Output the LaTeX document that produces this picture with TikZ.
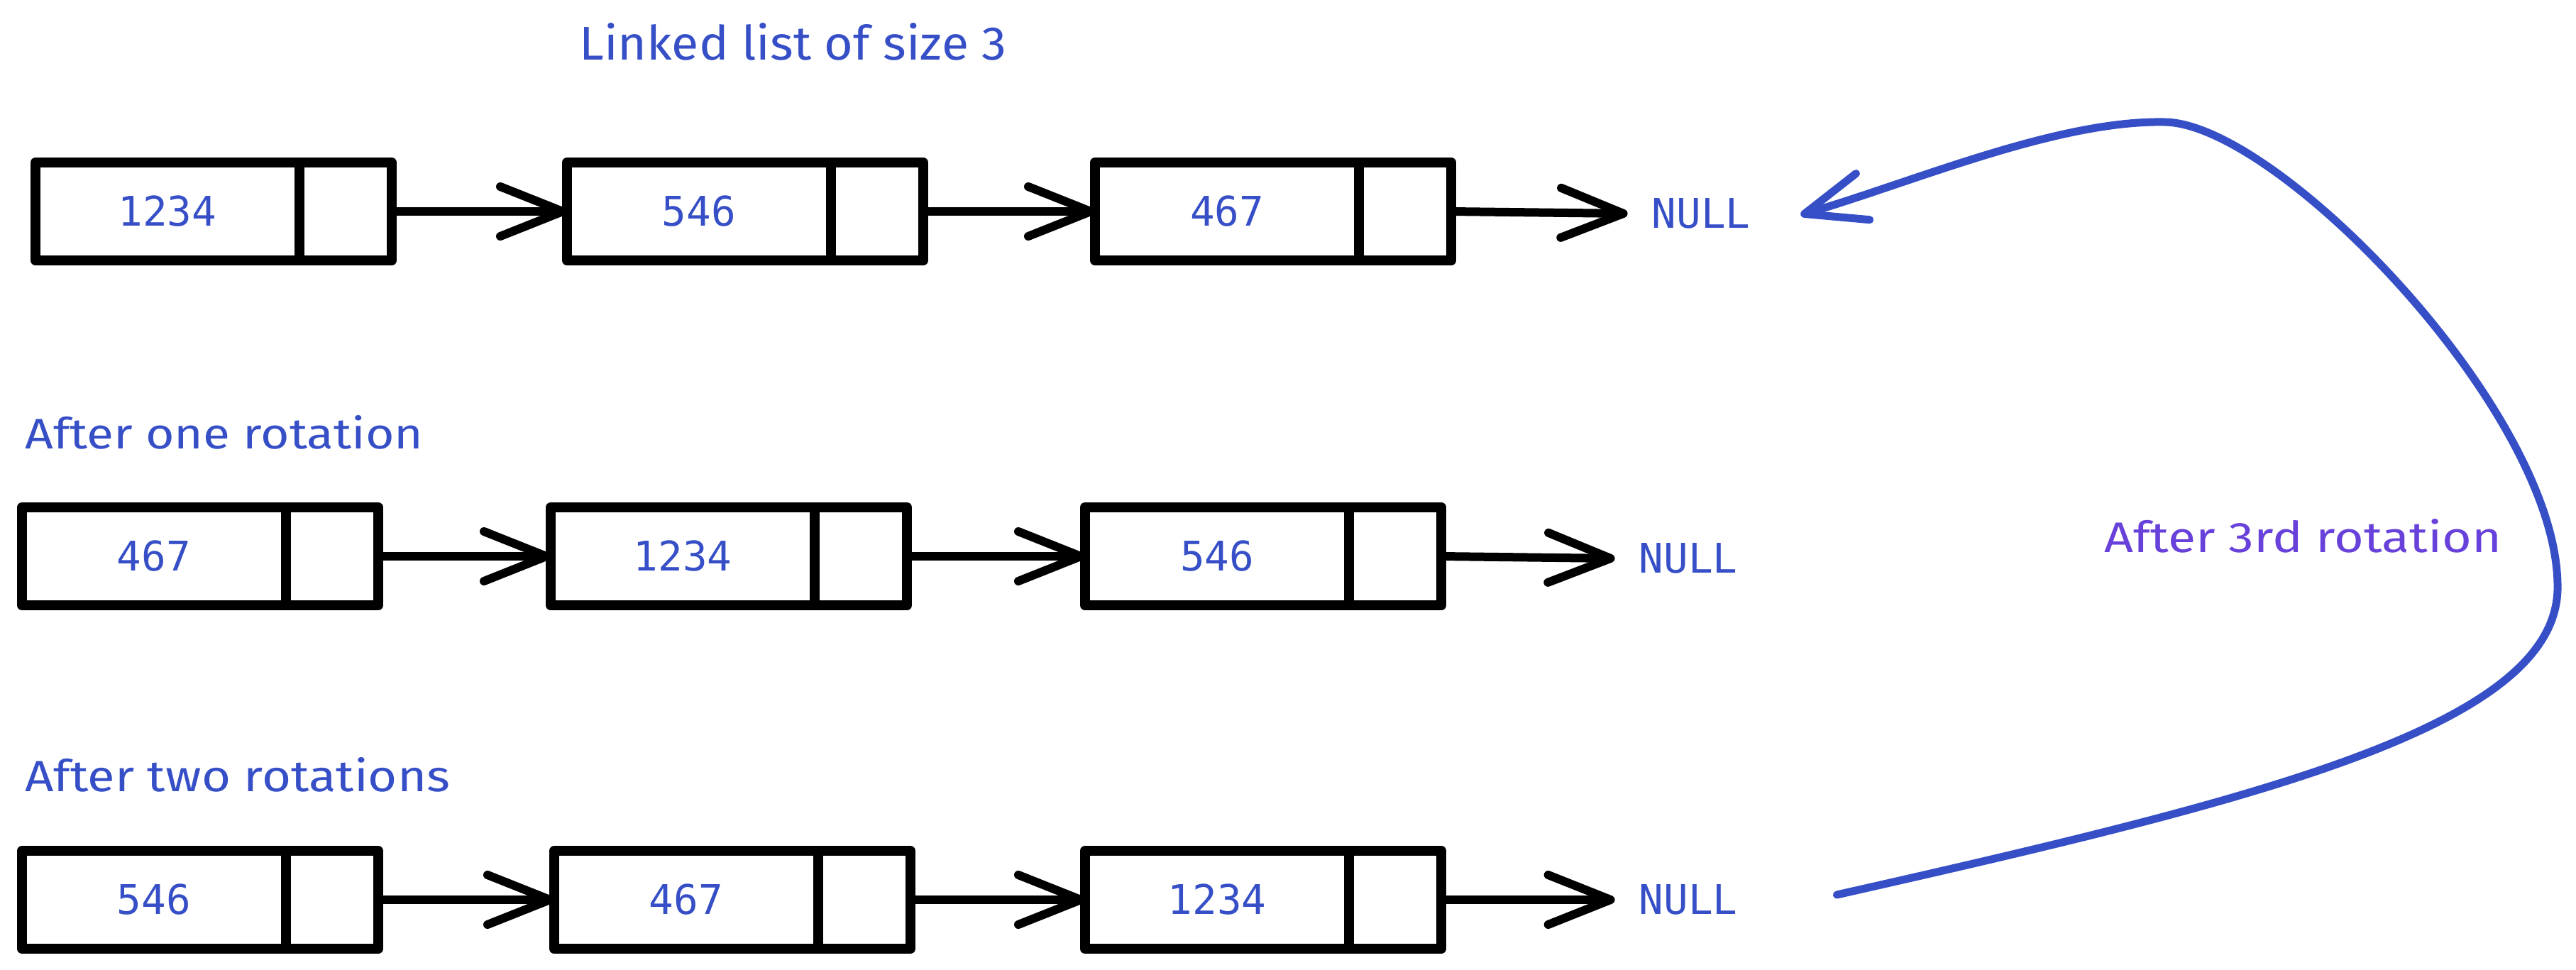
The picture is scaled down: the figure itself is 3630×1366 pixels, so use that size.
\documentclass[tikz,border=0pt]{standalone}
\usepackage{fontspec}
\usepackage{graphicx}
\usetikzlibrary{arrows.meta,calc}
\newfontfamily\monofont{DejaVu Sans Mono}
\newfontfamily\handfont{Fira Sans}
\definecolor{inkblue}{HTML}{364FC7}
\definecolor{inkviolet}{HTML}{6741D9}
\begin{document}
\begin{tikzpicture}[x=1pt,y=-1pt,
  cell/.style={draw=black, line width=14pt, line join=round, inner sep=0pt, outer sep=0pt,
    minimum height=138pt, font=\monofont\fontsize{57.6}{60}\selectfont, text=inkblue},
  datacell/.style={cell, minimum width=372pt},
  ptrcell/.style={cell, minimum width=130pt, anchor=west},
  link/.style={draw=black, line width=12pt, line cap=round, line join=round,
    -{Straight Barb[length=88pt,width=70pt,round]}},
  nulltext/.style={inner xsep=34pt, inner ysep=0pt, outer sep=0pt,
    font=\monofont\fontsize{57.6}{60}\selectfont, text=inkblue},
  hand/.style={inner sep=0pt, anchor=base west},
  rotloop/.style={draw=inkblue, line width=11pt, line cap=round, line join=round,
    -{Straight Barb[length=86pt,width=68pt,round]}},
]
\useasboundingbox (0,0) rectangle (3630,1366);

% titles
\node[hand, text=inkblue] (t0) at (816,84) {\resizebox{602pt}{52pt}{\handfont Linked list of size 3}};
\node[hand, text=inkblue] (t1) at (35,632) {\resizebox{561pt}{47pt}{\handfont After one rotation}};
\node[hand, text=inkblue] (t2) at (35,1115) {\resizebox{599pt}{48pt}{\handfont After two rotations}};
\node[hand, text=inkviolet] (t3) at (2965,778) {\resizebox{560pt}{47pt}{\handfont After 3rd rotation}};

% row 1
\node[datacell] (d11) at (236,298) {1234};
\node[ptrcell] (p11) at (d11.east) {};
\node[datacell] (d12) at (985,298) {546};
\node[ptrcell] (p12) at (d12.east) {};
\node[datacell] (d13) at (1729,298) {467};
\node[ptrcell] (p13) at (d13.east) {};
\node[nulltext] (n1) at (2397,301) {NULL};
\draw[link] (p11.east) -- (d12.west);
\draw[link] (p12.east) -- (d13.west);
\draw[link] (p13.east) -- (n1.west);

% row 2
\node[datacell] (d21) at (217,784) {467};
\node[ptrcell] (p21) at (d21.east) {};
\node[datacell] (d22) at (962,784) {1234};
\node[ptrcell] (p22) at (d22.east) {};
\node[datacell] (d23) at (1715,784) {546};
\node[ptrcell] (p23) at (d23.east) {};
\node[nulltext] (n2) at (2379,787) {NULL};
\draw[link] (p21.east) -- (d22.west);
\draw[link] (p22.east) -- (d23.west);
\draw[link] (p23.east) -- (n2.west);

% row 3
\node[datacell] (d31) at (217,1268) {546};
\node[ptrcell] (p31) at (d31.east) {};
\node[datacell] (d32) at (967,1268) {467};
\node[ptrcell] (p32) at (d32.east) {};
\node[datacell] (d33) at (1715,1268) {1234};
\node[ptrcell] (p33) at (d33.east) {};
\node[nulltext] (n3) at (2379,1268) {NULL};
\draw[link] (p31.east) -- (d32.west);
\draw[link] (p32.east) -- (d33.west);
\draw[link] (p33.east) -- (n3.west);

% rotation loop
\coordinate (cstart) at ($(n3.east)+(106,-7)$);
\coordinate (cend) at ($(n1.east)+(37,2)$);
\draw[rotloop] (cstart) .. controls (3200,1123) and (3610,1020) .. (3604,823)
  .. controls (3600,577) and (3210,175) .. (3051,172)
  .. controls (2900,169) and (2700,255) .. (cend);
\end{tikzpicture}
\end{document}
